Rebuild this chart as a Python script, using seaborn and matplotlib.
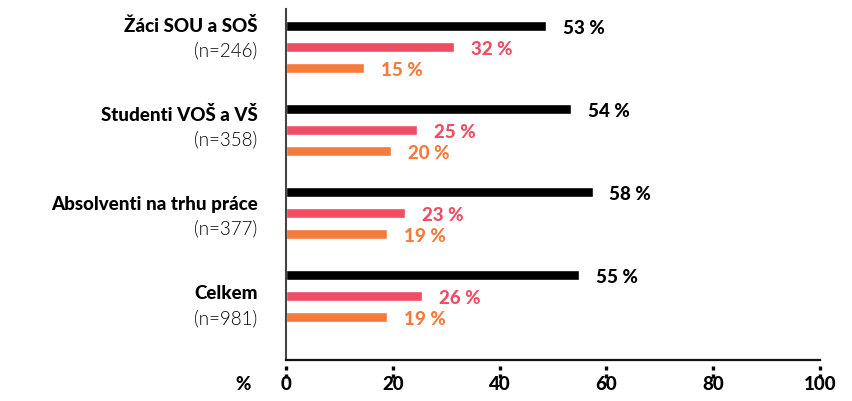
import matplotlib
matplotlib.use("Agg")
import matplotlib.pyplot as plt
import matplotlib.transforms as mtransforms
from matplotlib.lines import Line2D
import seaborn as sns
import pandas as pd

# ---- data ----
groups = ["Žáci SOU a SOŠ", "Studenti VOŠ a VŠ", "Absolventi na trhu práce", "Celkem"]
sample_sizes = ["(n=246)", "(n=358)", "(n=377)", "(n=981)"]
series = ["A", "B", "C"]
values_a = [48.7, 53.4, 57.4, 54.9]
values_b = [31.5, 24.6, 22.3, 25.5]
values_c = [14.7, 19.7, 19.0, 19.0]
labels_a = [53, 54, 58, 55]
labels_b = [32, 25, 23, 26]
labels_c = [15, 20, 19, 19]
x_ticks = [0, 20, 40, 60, 80, 100]
colors = ["#000000", "#EF4D64", "#F47B3B"]

rows = []
for vals, s in zip([values_a, values_b, values_c], series):
    for g, v in zip(groups, vals):
        rows.append({"group": g, "series": s, "value": v})
df = pd.DataFrame(rows)

sns.set_style("white")
FONT = ["Lato", "DejaVu Sans"]
plt.rcParams["font.family"] = FONT

fig = plt.figure(figsize=(8.52, 4.02), dpi=100)
ax = fig.add_axes([286 / 852, 1 - 361 / 402, 534 / 852, 351 / 402])

sns.barplot(data=df, y="group", x="value", hue="series", order=groups,
            hue_order=series, palette=colors, orient="h", width=0.76,
            gap=0.5, legend=False, ax=ax, saturation=1)

ax.set_xlim(0, 100)
ax.set_ylim(3.772, -0.457)
ax.set_xlabel("")
ax.set_ylabel("")
ax.set_yticks([])
ax.set_xticks(x_ticks)
ax.tick_params(axis="x", length=0, labelbottom=False)

for side in ["top", "right"]:
    ax.spines[side].set_visible(False)
ax.spines["left"].set_color("#444444")
ax.spines["left"].set_linewidth(1.5)
ax.spines["bottom"].set_color("#111111")
ax.spines["bottom"].set_linewidth(1.6)

trans_x = mtransforms.blended_transform_factory(ax.transData, ax.transAxes)

# dotted tick marks below the axis line (short solid segments)
for t in x_ticks:
    for yy in (-0.0185, -0.0405):
        ax.add_line(Line2D([t, t], [yy - 0.0095, yy], transform=trans_x,
                           clip_on=False, color="#000000", lw=2.4,
                           solid_capstyle="butt", zorder=10))

# x tick labels (heavy weight)
for t in x_ticks:
    ax.text(t, -0.068, str(t), transform=trans_x, ha="center", va="center",
            fontsize=13.5, fontweight=900, color="#000000")

# value labels
all_labels = [labels_a, labels_b, labels_c]
for cont, labs, col in zip(ax.containers, all_labels, colors):
    for bar, lab in zip(cont, labs):
        y = bar.get_y() + bar.get_height() / 2
        ax.annotate(f"{lab} %", xy=(bar.get_width(), y), xytext=(12.0, -1),
                    textcoords="offset points", va="center", ha="left",
                    fontsize=13.5, fontweight=900, color=col)

# group labels
trans_y = mtransforms.blended_transform_factory(ax.transAxes, ax.transData)
for i, (g, n) in enumerate(zip(groups, sample_sizes)):
    mid = -0.119 + 1.076 * i
    ax.text(-0.053, mid - 0.148, g, transform=trans_y, ha="right", va="center",
            fontsize=13.5, fontweight=900, color="#000000")
    ax.text(-0.053, mid + 0.148, n, transform=trans_y, ha="right", va="center",
            fontsize=13.5, fontweight=300, color="#000000")

ax.text(-0.0805, -0.068, "%", transform=ax.transAxes, ha="center", va="center",
        fontsize=13.5, fontweight=900, color="#000000")

fig.savefig("out.png", dpi=100)
